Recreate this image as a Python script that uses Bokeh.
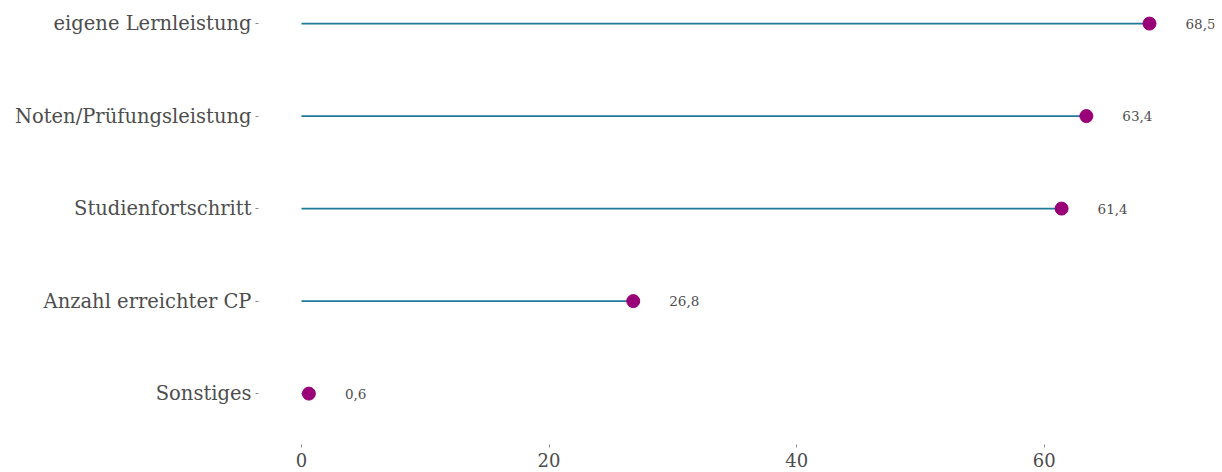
from bokeh.plotting import figure
from bokeh.models import ColumnDataSource, FixedTicker, Range1d
from bokeh.core.properties import value
from bokeh.embed import file_html
from bokeh.resources import INLINE

categories = ["Sonstiges", "Anzahl erreichter CP", "Studienfortschritt",
              "Noten/Prüfungsleistung", "eigene Lernleistung"]
values = [0.6, 26.8, 61.4, 63.4, 68.5]
x_ticks = [0, 20, 40, 60]

pos = list(range(1, len(categories) + 1))
labels = [f"{v:.1f}".replace(".", ",") for v in values]
src = ColumnDataSource(dict(y=pos, v=values, zero=[0] * len(values), lab=labels))

FONT = "DejaVu Serif"
GREY = "#4d4d4d"

p = figure(width=1222, height=470, output_backend="svg", toolbar_location=None,
           x_range=Range1d(-3.47, 73.75), y_range=Range1d(0.45, 5.163),
           min_border_left=258, min_border_right=8, min_border_top=8, min_border_bottom=26)
p.outline_line_color = None
p.xgrid.visible = False
p.ygrid.visible = False

p.segment(x0="zero", x1="v", y0="y", y1="y", source=src, line_color="#1f7a9a", line_width=1.6)
p.scatter(x="v", y="y", source=src, size=13, fill_color="#990077", line_color="#990077")
p.text(x="v", y="y", text="lab", source=src, x_offset=36, text_baseline="middle",
       text_align="left", text_font=value(FONT), text_font_size="13.5px", text_color=GREY)

for ax in (p.xaxis[0], p.yaxis[0]):
    ax.axis_line_color = None
    ax.major_tick_line_color = "#888888"
    ax.major_tick_out = 3
    ax.major_tick_in = 0
    ax.minor_tick_line_color = None
    ax.major_label_text_font = FONT
    ax.major_label_text_color = GREY

p.xaxis.ticker = FixedTicker(ticks=x_ticks)
p.xaxis.major_label_text_font_size = "18px"
p.xaxis.major_label_standoff = 5

p.yaxis.ticker = FixedTicker(ticks=pos)
p.yaxis.major_label_overrides = {i: c for i, c in zip(pos, categories)}
p.yaxis.major_label_text_font_size = "19.5px"
p.yaxis.major_label_standoff = 4

open("out.html", "w").write(file_html(p, INLINE))
